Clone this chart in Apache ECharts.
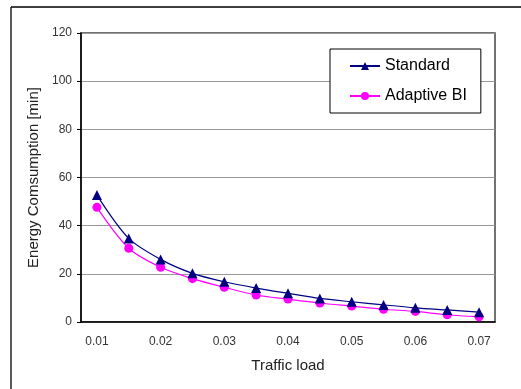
<!DOCTYPE html>
<html>
<head>
<meta charset="utf-8">
<script src="https://cdn.jsdelivr.net/npm/echarts@6/dist/echarts.min.js"></script>
<style>
  html, body { margin: 0; padding: 0; background: #fff; overflow: hidden; }
  #main { width: 521px; height: 389px; }
</style>
</head>
<body>
<div id="main"></div>
<script>
// traffic load categories (every other one labelled)
var loads = ['0.01', '0.015', '0.02', '0.025', '0.03', '0.035', '0.04',
             '0.045', '0.05', '0.055', '0.06', '0.065', '0.07'];

// energy consumption [min]
var standard = [52.7, 34.7, 26.0, 20.2, 16.7, 14.1, 11.9, 9.8, 8.4, 7.1, 5.9, 5.0, 4.1];
var adaptiveBI = [47.6, 30.6, 22.7, 18.0, 14.4, 11.2, 9.5, 7.9, 6.6, 5.3, 4.4, 3.0, 2.2];

var chart = echarts.init(document.getElementById('main'));
var font = 'Liberation Sans, Arial, sans-serif';

chart.setOption({
  animation: false,
  backgroundColor: '#fff',
  textStyle: { fontFamily: font },
  grid: {
    left: 81, right: 26, top: 33, bottom: 67,
    show: true, borderColor: '#444', borderWidth: 1.5,
    containLabel: false
  },
  //figure frame: top and left edges only
  graphic: [{
    type: 'line',
    shape: { x1: 11, y1: 7, x2: 540, y2: 7 },
    style: { stroke: '#000', lineWidth: 1.3 },
    silent: true
  }, {
    type: 'line',
    shape: { x1: 11, y1: 7, x2: 11, y2: 400 },
    style: { stroke: '#000', lineWidth: 1.3 },
    silent: true
  }],
  legend: {
    orient: 'vertical',
    left: 330, top: 49,
    width: 154,
    padding: [9, 14, 9, 19],
    backgroundColor: '#fff',
    borderColor: '#000',
    borderWidth: 1,
    itemWidth: 30, itemHeight: 10,
    itemGap: 14,
    textStyle: { fontFamily: font, fontSize: 16, color: '#000' },
    data: ['Standard', 'Adaptive BI']
  },
  xAxis: {
    type: 'category',
    data: loads,
    boundaryGap: true,
    name: 'Traffic load',
    nameLocation: 'middle',
    nameGap: 36,
    nameTextStyle: { fontSize: 15, color: '#222', fontFamily: font },
    axisLine: { lineStyle: { color: '#000', width: 1.5 } },
    axisTick: { inside: true, length: 4, interval: 0, lineStyle: { color: '#000' } },
    axisLabel: { interval: 1, fontSize: 12, color: '#333', margin: 14, fontFamily: font },
    splitLine: { show: false }
  },
  yAxis: {
    type: 'value',
    min: 0, max: 120, interval: 20,
    name: 'Energy Comsumption [min]',
    nameLocation: 'middle',
    nameGap: 40,
    nameTextStyle: { fontSize: 15, color: '#222', fontFamily: font },
    axisLine: { show: true, lineStyle: { color: '#000', width: 1.5 } },
    axisTick: { show: true, length: 4, lineStyle: { color: '#000' } },
    axisLabel: { fontSize: 12, color: '#333', margin: 9, fontFamily: font },
    splitLine: { lineStyle: { color: '#999', width: 1 } }
  },
  series: [{
    name: 'Standard',
    type: 'line',
    data: standard,
    smooth: 0.3,
    symbol: 'triangle',
    symbolSize: 10,
    color: '#000080',
    lineStyle: { width: 1.2, color: '#000080' },
    itemStyle: { color: '#000080' },
    z: 3
  }, {
    name: 'Adaptive BI',
    type: 'line',
    data: adaptiveBI,
    smooth: 0.3,
    symbol: 'circle',
    symbolSize: 9,
    color: '#ff00ff',
    lineStyle: { width: 1.2, color: '#ff00ff' },
    itemStyle: { color: '#ff00ff' },
    z: 2
  }]
});
</script>
</body>
</html>
